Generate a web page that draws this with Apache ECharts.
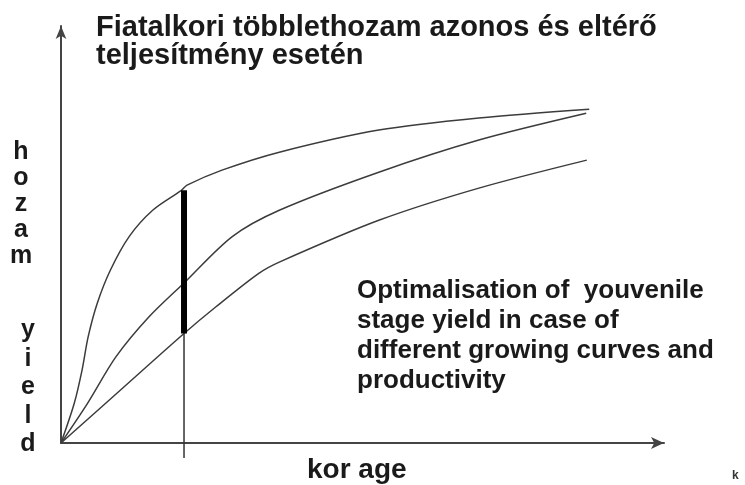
<!DOCTYPE html>
<html>
<head>
<meta charset="utf-8">
<script src="https://cdn.jsdelivr.net/npm/echarts@6/dist/echarts.min.js"></script>
<style>
html, body { margin: 0; padding: 0; background: #fff; }
#chart { width: 745px; height: 485px; }
</style>
</head>
<body>
<div id="chart"></div>
<script>
// curves: [age, yield] (x 0..100, y 0..~100)
var curveHigh = [[0, 0], [2.2, 9.5], [3.5, 17.5], [4.5, 25.4], [6.0, 33.4], [8.2, 41.4], [11.3, 49.4],
    [15.2, 55.7], [19.9, 60.4], [20.9, 61.7], [26.7, 65.3], [36.2, 69.6], [52.7, 74.9], [69.3, 77.8], [87.6, 79.9]];
var curveMid = [[0, 0], [4.4, 9.5], [9.1, 20.6], [14.6, 30.2], [20.4, 38.3], [28.4, 49.4],
    [36.2, 55.7], [52.7, 64.8], [69.3, 72.5], [87.1, 78.9]];
var curveLow = [[0, 0], [10.2, 13.1], [20.4, 26.2], [25.7, 32.6], [32.8, 40.6], [36.2, 43.3],
    [52.7, 53.3], [69.3, 61.0], [87.2, 67.7]];
var markAge = 20.4;
var markLow = -3.6;
var barBottom = 26.2;
var barTop = 60.5;

var titleLines = ['Fiatalkori többlethozam azonos és eltérő', 'teljesítmény esetén'];
var noteLines = ['Optimalisation of  youvenile', 'stage yield in case of', 'different growing curves and', 'productivity'];
var yLabelHu = ['h', 'o', 'z', 'a', 'm'];
var yLabelEn = ['y', 'i', 'e', 'l', 'd'];
var xLabel = 'kor age';

var myChart = echarts.init(document.getElementById('chart'));
var font = '"Liberation Sans", Arial, sans-serif';
var txtColor = '#1a1a1a';
var curveStyle = { color: '#3c3c3c', width: 1.5 };

option = {
    animation: false,
    backgroundColor: '#fff',
    grid: { left: 61, right: 81, top: 26, bottom: 42 },
    xAxis: {
        type: 'value',
        min: 0,
        max: 100,
        splitLine: { show: false },
        axisTick: { show: false },
        axisLabel: { show: false },
        axisLine: {
            onZero: false,
            symbol: ['none', 'arrow'],
            symbolSize: [9, 13],
            lineStyle: { color: '#444', width: 2 }
        }
    },
    yAxis: {
        type: 'value',
        min: 0,
        max: 99.8,
        splitLine: { show: false },
        axisTick: { show: false },
        axisLabel: { show: false },
        axisLine: {
            show: true,
            onZero: false,
            symbol: ['none', 'arrow'],
            symbolSize: [8, 13],
            lineStyle: { color: '#444', width: 2 }
        }
    },
    series: [
        { type: 'line', data: curveHigh, symbol: 'none', smooth: 0.3, lineStyle: curveStyle },
        { type: 'line', data: curveMid, symbol: 'none', smooth: 0.3, lineStyle: curveStyle },
        { type: 'line', data: curveLow, symbol: 'none', smooth: 0.3, lineStyle: curveStyle },
        {
            type: 'line', clip: false, symbol: 'none',
            data: [[markAge, markLow], [markAge, barBottom]],
            lineStyle: { color: '#333', width: 1.5 }
        },
        {
            type: 'line', clip: false, symbol: 'none',
            data: [[markAge, barBottom], [markAge, barTop]],
            lineStyle: { color: '#000', width: 6 }
        }
    ],
    graphic: [
        {
            type: 'text', left: 96, top: 13,
            style: { text: titleLines.join('\n'), font: 'bold 29px ' + font, fill: txtColor, lineHeight: 28 }
        },
        {
            type: 'text', left: 357, top: 276,
            style: { text: noteLines.join('\n'), font: 'bold 26px ' + font, fill: txtColor, lineHeight: 30 }
        },
        {
            type: 'text', left: 307, top: 456,
            style: { text: xLabel, font: 'bold 28px ' + font, fill: txtColor }
        },
        {
            type: 'text', x: 21, y: 139,
            style: { text: yLabelHu.join('\n'), font: 'bold 25px ' + font, fill: txtColor, lineHeight: 26, align: 'center' }
        },
        {
            type: 'text', x: 28, y: 316,
            style: { text: yLabelEn.join('\n'), font: 'bold 25px ' + font, fill: txtColor, lineHeight: 28.5, align: 'center' }
        },
        {
            type: 'text', x: 732, y: 470,
            style: { text: 'k', font: 'bold 12px ' + font, fill: '#333' }
        }
    ]
};
myChart.setOption(option);
</script>
</body>
</html>
